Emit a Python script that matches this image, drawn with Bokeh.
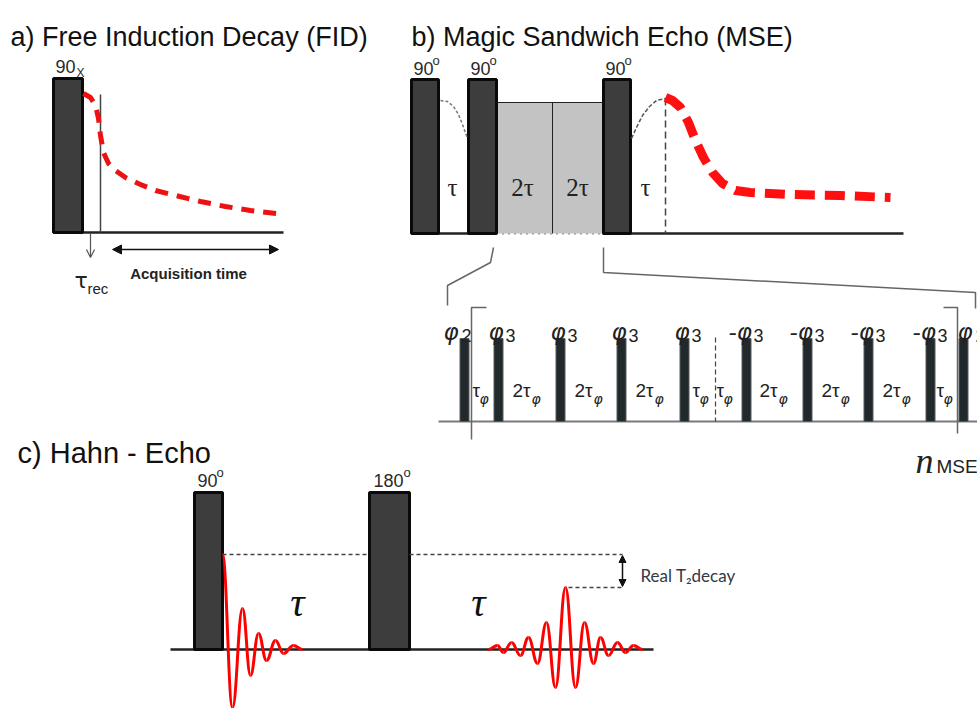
import numpy as np
from bokeh.plotting import figure
from bokeh.models import Range1d, Arrow, NormalHead, OpenHead
from bokeh.core.properties import value
from bokeh.embed import file_html
from bokeh.resources import INLINE

# ---------------- data (diagram coordinates, y grows downward) ----------------
panel_titles = ["a) Free Induction Decay (FID)", "b) Magic Sandwich Echo (MSE)", "c) Hahn - Echo"]
title_x = [10, 411, 17]
title_y = [36, 36, 452]

# hard pulses (big rectangles)
pulse_left = [53, 411, 468, 603, 194, 369]
pulse_right = [82, 438, 496, 630, 222, 409]
pulse_top = [78, 79, 79, 79, 492, 492]
pulse_bottom = [232, 233, 233, 233, 649, 649]

# pulse flip-angle labels
angle_text = ["90", "90", "90", "90", "90", "180"]
angle_x = [55, 413, 470, 605, 197, 373]
angle_y = [66, 68, 68, 68, 480, 480]
deg_x = [None, 432, 489, 624, 216, 403]
deg_y = [None, 60, 60, 60, 472, 472]

# MSE gray refocusing block
gray_left = [496, 552]
gray_right = [552, 602]
gray_top = 102
gray_bottom = 233

# baselines
base_x0 = [53, 411, 602, 170, 438]
base_x1 = [283, 496, 903, 653, 977]
base_y = [232, 233, 233, 649, 421]

# MSE tau labels
mse_tau_text = ["τ", "2τ", "2τ", "τ"]
mse_tau_x = [452, 522, 577, 645]
mse_tau_y = 187

# FID red decay (panel a)
fid_x = [83, 90, 95, 98, 100, 103, 108, 115, 125, 140, 155, 175, 200, 225, 250, 283]
fid_y = [93, 97, 105, 118, 135, 152, 163, 170, 177, 184, 190, 195, 201, 206, 210, 214]

# MSE red echo decay (panel b)
mse_x = [665, 672, 680, 688, 695, 703, 712, 722, 735, 750, 790, 840, 890]
mse_y = [97, 100, 107, 122, 140, 157, 172, 183, 190, 192, 194, 195, 197]

# MSE gray dotted signal fragments
dot1_x = [440, 447, 453, 458, 462, 467]
dot1_y = [100, 101, 106, 114, 124, 138]
dot2_x = [631, 636, 642, 649, 656, 665]
dot2_y = [138, 127, 115, 106, 100, 98]

# expanded MSE block
exp_pulse_x = [464, 498, 560, 621, 684, 746, 807, 868, 930, 963]
exp_pulse_w = 9
exp_top = 338
exp_bottom = 421
phi_text = ["φ", "φ", "φ", "φ", "φ", "-φ", "-φ", "-φ", "-φ", "φ"]
phi_x = [443, 488, 550, 611, 674, 728, 789, 850, 912, 957]
phi_sub = ["2", "3", "3", "3", "3", "3", "3", "3", "3", "2"]
phi_sub_x = [461, 505, 567, 628, 691, 753, 814, 875, 937, 975]
tphi_text = ["τ", "2τ", "2τ", "2τ", "τ", "τ", "2τ", "2τ", "2τ", "τ"]
tphi_x = [472, 512, 574, 635, 692, 716, 759, 821, 882, 936]
tphi_sub_x = [479, 531, 593, 654, 699, 723, 778, 840, 901, 943]

# zoom connector lines
zoomL_x = [493, 490, 447, 447]
zoomL_y = [247, 262, 285, 305]
zoomR_x = [603, 603, 975, 975]
zoomR_y = [247, 272, 292, 308]
brackL_x = [486, 471, 471]
brackL_y = [307, 307, 439]
brackR_x = [943, 957, 957]
brackR_y = [307, 307, 433]

# Hahn echo signals (extrema)
hfid_x = [222, 232, 242, 250, 258, 266, 275, 283, 293, 302]
hfid_y = [554, 707, 608, 675, 633, 660, 640, 653, 645, 649]
echo_x = [488, 497, 503, 511, 520, 528, 537, 546, 555, 565, 575, 584, 593, 600, 608, 617, 625, 633, 642]
echo_y = [649, 645, 652, 642, 655, 637, 663, 622, 687, 587, 687, 622, 663, 637, 655, 642, 652, 645, 649]

# Hahn dashed reference levels
hd_x0 = [222, 409, 568]
hd_x1 = [369, 622, 622]
hd_y = [554, 554, 587]

# ---------------- figure ----------------
p = figure(width=977, height=708, x_range=Range1d(0, 977), y_range=Range1d(708, 0),
           output_backend="svg", toolbar_location=None, min_border=0,
           x_axis_location=None, y_axis_location=None, title=None)
p.grid.visible = False
p.outline_line_color = None
p.background_fill_color = "white"
p.border_fill_color = "white"

SANS = value("Liberation Sans")
SERIF = value("Liberation Serif")

# titles
p.text(x=title_x[:2], y=title_y[:2], text=panel_titles[:2], text_font=SANS, text_font_size="27px",
       text_color="#111111", text_baseline="alphabetic")
p.text(x=title_x[2:], y=title_y[2:], text=panel_titles[2:], text_font=SANS, text_font_size="29px",
       text_color="#111111", text_baseline="alphabetic")

# baselines
p.segment(x0=base_x0[:4], y0=base_y[:4], x1=base_x1[:4], y1=base_y[:4], line_color="#222222", line_width=2.5)
p.segment(x0=[base_x0[4]], y0=[base_y[4]], x1=[base_x1[4]], y1=[base_y[4]], line_color="#7a7a7a", line_width=2)
p.segment(x0=[496], y0=[233], x1=[602], y1=[233], line_color="#222222", line_width=2, line_dash="1 5")

# gray block
p.quad(left=gray_left, right=gray_right, top=[gray_top] * 2, bottom=[gray_bottom] * 2,
       fill_color="#c3c3c3", line_color=None)
p.segment(x0=[496, 552], y0=[gray_top, gray_top], x1=[602, 552], y1=[gray_top, gray_bottom],
          line_color="#222222", line_width=1)

# big pulses
p.quad(left=pulse_left, right=pulse_right, top=pulse_top, bottom=pulse_bottom,
       fill_color="#3d3d3d", line_color="#0a0a0a", line_width=3)

# angle labels
p.text(x=angle_x, y=angle_y, text=angle_text, text_font=SANS, text_font_size="18px",
       text_color="#2a2a2a", text_baseline="alphabetic")
p.text(x=deg_x[1:], y=deg_y[1:], text=["o"] * 5, text_font=SANS, text_font_size="13px",
       text_color="#2a2a2a", text_baseline="alphabetic")
p.text(x=[76], y=[72], text=["X"], text_font=SANS, text_font_size="12px",
       text_color="#2a2a2a", text_baseline="alphabetic")

# panel a details
p.segment(x0=[100], y0=[94], x1=[100], y1=[232], line_color="#444444", line_width=1.5)
p.line(fid_x, fid_y, line_color="#ee1111", line_width=5, line_dash="13 9")
p.add_layout(Arrow(end=OpenHead(size=8, line_color="#555555", line_width=1.2),
                   x_start=90, y_start=233, x_end=90, y_end=257, line_color="#555555", line_width=1.2))
p.add_layout(Arrow(start=NormalHead(size=9, fill_color="#111111", line_color="#111111"),
                   end=NormalHead(size=9, fill_color="#111111", line_color="#111111"),
                   x_start=112, y_start=249, x_end=278, y_end=249, line_color="#111111", line_width=1.5))
p.text(x=[188], y=[273], text=["Acquisition time"], text_font=SANS, text_font_size="15px",
       text_font_style="bold", text_color="#222222", text_align="center", text_baseline="alphabetic")
p.text(x=[74], y=[280], text=["τ"], text_font=value("DejaVu Sans"), text_font_size="22px",
       text_color="#222222", text_baseline="alphabetic")
p.text(x=[87], y=[288], text=["rec"], text_font=SANS, text_font_size="15px",
       text_color="#222222", text_baseline="alphabetic")

# panel b details
p.line(dot1_x, dot1_y, line_color="#777777", line_width=1.5, line_dash="3 2")
p.line(dot2_x, dot2_y, line_color="#555555", line_width=1.5, line_dash="4 2")
p.segment(x0=[665], y0=[98], x1=[665], y1=[233], line_color="#444444", line_width=1.5, line_dash="7 4")
p.line(mse_x, mse_y, line_color="#ff1010", line_width=9, line_dash="20 10")
p.text(x=mse_tau_x, y=[mse_tau_y] * 4, text=mse_tau_text, text_font=SERIF, text_font_size="25px",
       text_color="#222222", text_align="center", text_baseline="alphabetic")

# zoom connectors
for xs, ys in [(zoomL_x, zoomL_y), (zoomR_x, zoomR_y), (brackL_x, brackL_y), (brackR_x, brackR_y)]:
    p.line(xs, ys, line_color="#666666", line_width=1.5)

# expanded pulses
p.quad(left=[x - exp_pulse_w / 2 for x in exp_pulse_x], right=[x + exp_pulse_w / 2 for x in exp_pulse_x],
       top=[exp_top] * len(exp_pulse_x), bottom=[exp_bottom] * len(exp_pulse_x),
       fill_color="#22292d", line_color="#555b5e", line_width=1)
p.segment(x0=[715], y0=[337], x1=[715], y1=[421], line_color="#444444", line_width=1.2, line_dash="5 3")
p.text(x=phi_x, y=[331] * 10, text=phi_text, text_font=value("DejaVu Sans"), text_font_size="23px",
       text_font_style="italic", text_color="#222222", text_baseline="alphabetic")
p.text(x=phi_sub_x, y=[335] * 10, text=phi_sub, text_font=SANS, text_font_size="18px",
       text_color="#222222", text_baseline="alphabetic")
p.text(x=tphi_x, y=[390] * 10, text=tphi_text, text_font=SANS, text_font_size="19px",
       text_color="#222222", text_baseline="alphabetic")
p.text(x=tphi_sub_x, y=[398] * 10, text=["φ"] * 10, text_font=value("DejaVu Sans"), text_font_size="14px",
       text_font_style="italic", text_color="#222222", text_baseline="alphabetic")
p.text(x=[915], y=[460], text=["n"], text_font=SERIF, text_font_size="36px", text_font_style="italic",
       text_color="#222222", text_baseline="alphabetic")
p.text(x=[936], y=[466], text=["MSE"], text_font=SANS, text_font_size="19px",
       text_color="#222222", text_baseline="alphabetic")

# panel c details
p.segment(x0=hd_x0, y0=hd_y, x1=hd_x1, y1=hd_y, line_color="#444444", line_width=1.3, line_dash="4 3")
p.add_layout(Arrow(start=NormalHead(size=7, fill_color="#111111", line_color="#111111"),
                   end=NormalHead(size=7, fill_color="#111111", line_color="#111111"),
                   x_start=622, y_start=555, x_end=622, y_end=586, line_color="#111111", line_width=1.5))
p.text(x=[640], y=[575], text=["Real T₂decay"], text_font=value("Lato"), text_font_size="17px",
       text_color="#333844", text_baseline="alphabetic")
p.text(x=[297, 478], y=[602, 602], text=["τ", "τ"], text_font=SERIF, text_font_size="40px",
       text_font_style="italic", text_color="#111111", text_align="center", text_baseline="alphabetic")


def wave(xs, ys, k=0.42):
    xs = np.asarray(xs, float)
    ys = np.asarray(ys, float)
    x0, x1, y0, y1 = xs[:-1], xs[1:], ys[:-1], ys[1:]
    dx = x1 - x0
    p.bezier(x0=x0, y0=y0, x1=x1, y1=y1, cx0=x0 + k * dx, cy0=y0, cx1=x1 - k * dx, cy1=y1,
             line_color="#ff0000", line_width=3)


wave(hfid_x, hfid_y)
wave(echo_x, echo_y)

open("out.html", "w").write(file_html(p, INLINE))
